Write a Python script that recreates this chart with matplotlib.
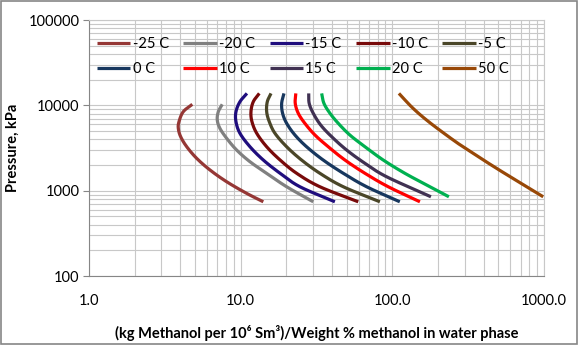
import numpy as np
import matplotlib
matplotlib.use("Agg")
import matplotlib.pyplot as plt
from matplotlib.patches import Rectangle

# temperature curves: (kg MeOH per 1e6 Sm3)/wt% vs pressure (kPa)
labels = ["-25 C", "-20 C", "-15 C", "-10 C", "-5 C", "0 C", "10 C", "15 C", "20 C", "50 C"]
colors = ["#953735", "#808080", "#1f0d7d", "#780a0a", "#4a4628",
          "#17375e", "#ff0000", "#403152", "#00b050", "#984807"]

x_m25 = [4.8, 4.18, 3.92, 3.88, 4.02, 4.41, 5.13, 6.28, 8.09, 10.96, 14.1]
p_m25 = [10280, 8410, 6430, 5370, 4290, 3270, 2390, 1745, 1271, 929, 741]

x_m20 = [7.56, 7.12, 7.01, 7.30, 8.09, 9.41, 11.52, 14.84, 20.1, 30.1]
p_m20 = [10280, 8410, 6730, 5370, 4100, 2990, 2182, 1597, 1111, 741]

x_m15 = [11.0, 9.89, 9.31, 9.31, 9.89, 11.52, 14.1, 18.2, 24.6, 41.8]
p_m15 = [13800, 11020, 8410, 6430, 4700, 3270, 2285, 1597, 1111, 741]

x_m10 = [13.27, 12.11, 11.69, 11.87, 12.76, 14.84, 18.2, 23.4, 33.3, 59.6]
p_m10 = [13800, 11020, 8410, 6430, 4700, 3270, 2285, 1597, 1111, 741]

x_m5 = [15.85, 14.98, 14.84, 15.44, 16.83, 20.1, 25.2, 33.3, 47.5, 82.8]
p_m5 = [13800, 11020, 8410, 6430, 4700, 3270, 2285, 1597, 1111, 741]

x_0 = [19.3, 18.63, 18.9, 20.1, 22.8, 27.2, 35.0, 47.5, 67.7, 112.0]
p_0 = [13800, 10550, 8060, 6150, 4485, 3270, 2285, 1597, 1111, 741]

x_10 = [23.1, 22.9, 23.98, 26.5, 30.9, 37.8, 48.7, 66.0, 94.0, 152.0]
p_10 = [13800, 10550, 8060, 6150, 4485, 3270, 2285, 1597, 1111, 741]

x_15 = [28.1, 28.3, 30.1, 33.7, 39.8, 50.0, 66.0, 91.7, 179.7]
p_15 = [13800, 10550, 8060, 5875, 4290, 2990, 2090, 1455, 848]

x_20 = [34.2, 35.4, 38.8, 44.0, 52.5, 66.0, 87.1, 121.0, 177.0, 236.0]
p_20 = [13800, 10550, 8060, 6150, 4485, 3270, 2285, 1597, 1111, 848]

x_50 = [110.5, 137.0, 177.0, 252.0, 293.0, 487.0, 988.0]
p_50 = [13800, 9220, 6250, 3920, 3270, 1825, 848]

xs = [x_m25, x_m20, x_m15, x_m10, x_m5, x_0, x_10, x_15, x_20, x_50]
ps = [p_m25, p_m20, p_m15, p_m10, p_m5, p_0, p_10, p_15, p_20, p_50]

xticks = [1, 10, 100, 1000]
xticklabels = ["1.0", "10.0", "100.0", "1000.0"]
yticks = [100, 1000, 10000, 100000]
yticklabels = ["100", "1000", "10000", "100000"]


def smooth(x, p, n=25):
    # Catmull-Rom through the read points, in log-log space
    pts = np.column_stack([np.log10(x), np.log10(p)])
    ext = np.vstack([2 * pts[0] - pts[1], pts, 2 * pts[-1] - pts[-2]])
    tt = np.linspace(0, len(pts) - 1, (len(pts) - 1) * n + 1)
    out = []
    for s in tt:
        i = min(int(np.floor(s)), len(pts) - 2)
        u = s - i
        p0, p1, p2, p3 = ext[i], ext[i + 1], ext[i + 2], ext[i + 3]
        out.append(0.5 * ((2 * p1) + (-p0 + p2) * u
                          + (2 * p0 - 5 * p1 + 4 * p2 - p3) * u ** 2
                          + (-p0 + 3 * p1 - 3 * p2 + p3) * u ** 3))
    out = np.array(out)
    return 10 ** out[:, 0], 10 ** out[:, 1]


plt.rcParams["font.family"] = ["Lato", "DejaVu Sans"]

fig = plt.figure(figsize=(5.78, 3.45), dpi=100)
ax = fig.add_axes([89 / 578, 1 - 276 / 345, 455 / 578, 256 / 345])

handles = []
for x, p, c, lab in zip(xs, ps, colors, labels):
    sx, sp = smooth(x, p)
    h, = ax.plot(sx, sp, color=c, lw=2.3, label=lab, solid_capstyle="butt")
    handles.append(h)

ax.set_xscale("log")
ax.set_yscale("log")
ax.set_xlim(1, 1000)
ax.set_ylim(100, 100000)

ax.grid(True, which="both", color="#c8c8c8", lw=0.8)
ax.set_axisbelow(True)

ax.set_xticks(xticks)
ax.set_xticklabels(xticklabels)
ax.set_yticks(yticks)
ax.set_yticklabels(yticklabels)
ax.tick_params(axis="x", which="both", length=0, pad=13, labelsize=10.5)
ax.tick_params(axis="y", which="major", length=4, color="#868686", pad=3, labelsize=10.5)
ax.tick_params(axis="y", which="minor", length=0)

for side in ["top", "right"]:
    ax.spines[side].set_color("#c8c8c8")
    ax.spines[side].set_linewidth(0.8)
for side in ["left", "bottom"]:
    ax.spines[side].set_color("#868686")
    ax.spines[side].set_linewidth(0.8)

ax.set_ylabel("Pressure, kPa", fontweight="bold", fontsize=10.5, labelpad=6)
ax.set_xlabel("(kg Methanol per 10\u2076 Sm\u00b3)/Weight % methanol in water phase",
              fontweight="bold", fontsize=10.5, labelpad=12)

# legend fills row by row in the original, matplotlib fills by column
order = [0, 5, 1, 6, 2, 7, 3, 8, 4, 9]
ax.legend([handles[i] for i in order], [labels[i] for i in order],
          ncol=5, loc="upper left", bbox_to_anchor=(-0.005, 0.975), frameon=False,
          fontsize=10.5, handlelength=2.3, handletextpad=0.15, columnspacing=1.0,
          labelspacing=0.8, borderaxespad=0.3)

fig.add_artist(Rectangle((0.001, 0.002), 0.997, 0.995, transform=fig.transFigure,
                         fill=False, edgecolor="#868686", lw=1.2))

fig.savefig("out.png", dpi=100)
